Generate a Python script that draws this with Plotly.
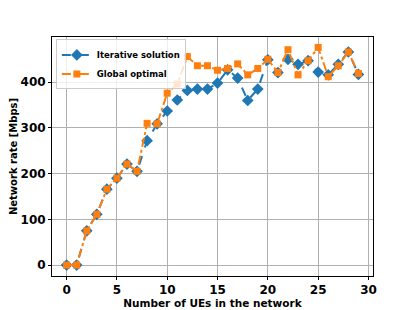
import plotly.graph_objects as go

num_ues = list(range(30))
iterative = [0, 0, 75, 111, 166, 190, 221, 205, 272, 309, 337, 361, 382, 385, 385, 398,
             427, 409, 360, 385, 449, 421, 450, 439, 447, 422, 416, 439, 466, 417]
global_opt = [0, 0, 75, 111, 166, 190, 221, 205, 310, 309, 376, 396, 456, 436, 436, 426,
              430, 440, 416, 430, 450, 421, 471, 416, 447, 476, 412, 436, 466, 419]
x_ticks = [0, 5, 10, 15, 20, 25, 30]
y_ticks = [0, 100, 200, 300, 400]

fig = go.Figure()
fig.add_trace(go.Scatter(
    x=num_ues, y=iterative, mode="lines+markers", name="Iterative solution",
    line=dict(color="#1f77b4", width=2, dash="dash"),
    marker=dict(symbol="diamond", size=9, color="#1f77b4"),
))
fig.add_trace(go.Scatter(
    x=num_ues, y=global_opt, mode="lines+markers", name="Global optimal",
    line=dict(color="#ff7f0e", width=2, dash="dashdot"),
    marker=dict(symbol="square", size=7, color="#ff7f0e"),
))

axis_common = dict(
    showline=True, linecolor="black", linewidth=1, mirror=True,
    showgrid=True, gridcolor="#b0b0b0", gridwidth=1,
    ticks="outside", ticklen=3, tickcolor="black",
    tickfont=dict(family="DejaVu Sans", size=12, color="black", weight="bold"),
    zeroline=False, automargin=False,
)
fig.update_xaxes(range=[-1.45, 30.45], tickvals=x_ticks,
                 title=dict(text="<b>Number of UEs in the network</b>",
                            font=dict(family="DejaVu Sans", size=10.5, color="black"), standoff=2),
                 **axis_common)
fig.update_yaxes(range=[-23.8, 498.8], tickvals=y_ticks,
                 title=dict(text="<b>Network rate [Mbps]</b>",
                            font=dict(family="DejaVu Sans", size=10, color="black"), standoff=4),
                 **axis_common)

fig.update_layout(
    width=407, height=302,
    margin=dict(l=44, r=42, t=29, b=34),
    plot_bgcolor="white", paper_bgcolor="white",
    showlegend=True,
    legend=dict(x=0.012, y=0.99, xanchor="left", yanchor="top",
                bgcolor="rgba(255,255,255,0.8)", bordercolor="#cccccc", borderwidth=1,
                font=dict(family="DejaVu Sans", size=8.5, color="black", weight="bold"),
                tracegroupgap=0, itemwidth=30),
)

fig.write_html("out.html")
